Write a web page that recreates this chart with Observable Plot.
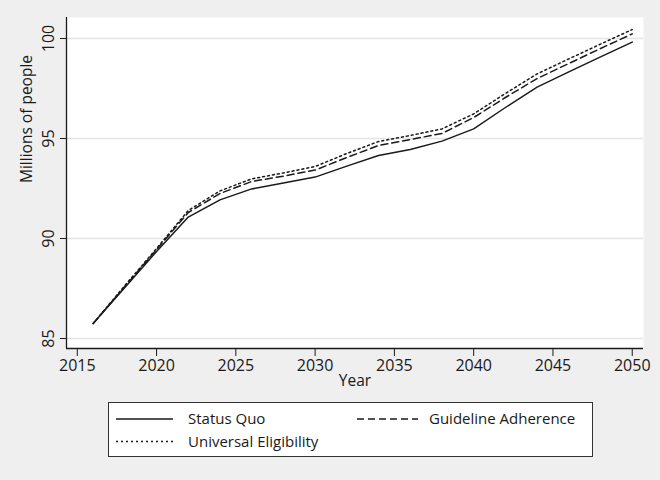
<!DOCTYPE html>
<html>
<head>
<meta charset="utf-8">
<script src="https://cdn.jsdelivr.net/npm/d3@7"></script>
<script src="https://cdn.jsdelivr.net/npm/@observablehq/plot@0.6"></script>
<style>
  html, body { margin: 0; padding: 0; background: #efefef; }
  #wrap { position: relative; width: 660px; height: 480px; background: #efefef; font-family: "Open Sans", sans-serif; }
  #legend { position: absolute; left: 108px; top: 402px; }
</style>
</head>
<body>
<div id="wrap">
  <div id="chart"></div>
  <svg id="legend" width="485" height="55"></svg>
</div>
<script>
const years = [2016, 2018, 2020, 2022, 2024, 2026, 2028, 2030, 2032, 2034, 2036, 2038, 2040, 2042, 2044, 2046, 2048, 2050];
const statusQuo = [85.75, 87.55, 89.35, 91.07, 91.93, 92.48, 92.77, 93.07, 93.62, 94.15, 94.45, 94.87, 95.48, 96.55, 97.57, 98.33, 99.08, 99.82];
const guidelineAdherence = [85.75, 87.6, 89.45, 91.3, 92.25, 92.85, 93.12, 93.42, 94.05, 94.65, 94.95, 95.25, 96.05, 97.05, 98.0, 98.75, 99.5, 100.23];
const universalEligibility = [85.75, 87.65, 89.5, 91.4, 92.38, 92.98, 93.28, 93.6, 94.25, 94.85, 95.15, 95.48, 96.23, 97.25, 98.23, 98.98, 99.72, 100.45];
const seriesNames = ["Status Quo", "Guideline Adherence", "Universal Eligibility"];
const xTicks = [2015, 2020, 2025, 2030, 2035, 2040, 2045, 2050];
const yTicks = [85, 90, 95, 100];
const xLabel = "Year";
const yLabel = "Millions of people";

const xDomain = [2014.32, 2050.71];
const yDomain = [84.5, 101.05];
const ink = "#1a1a1a";
const dashes = ["none", "7,4", "2,3"];

const rows = (vals) => years.map((year, i) => ({year, value: vals[i]}));
const seriesData = [statusQuo, guidelineAdherence, universalEligibility].map(rows);

const chart = Plot.plot({
  width: 660,
  height: 390,
  marginLeft: 66,
  marginRight: 17,
  marginTop: 17,
  marginBottom: 42,
  style: {background: "#efefef", fontFamily: "Open Sans", fontSize: "16px", color: ink},
  x: {domain: xDomain},
  y: {domain: yDomain},
  marks: [
    Plot.frame({fill: "white", stroke: null}),
    Plot.gridY(yTicks, {stroke: "#e4e4e4", strokeOpacity: 1, strokeWidth: 1.5}),
    ...seriesData.map((d, i) => Plot.line(d, {x: "year", y: "value", stroke: ink, strokeWidth: 1.5, strokeDasharray: dashes[i]})),
    Plot.ruleX([xDomain[0]], {stroke: ink, strokeWidth: 1.3}),
    Plot.ruleY([yDomain[0]], {stroke: ink, strokeWidth: 1.3}),
    Plot.axisX(xTicks, {tickSize: 8, tickPadding: 3, tickFormat: d => String(d), label: null, fontSize: 16, stroke: ink}),
    Plot.axisY(yTicks, {tickSize: 6, tickRotate: -90, tickPadding: 7, label: null, fontSize: 16, stroke: ink}),
    Plot.text([xLabel], {frameAnchor: "bottom", dy: 37, fontSize: 15.5, fill: ink}),
    Plot.text([yLabel], {frameAnchor: "left", dx: -39, rotate: -90, fontSize: 15.5, fill: ink})
  ]
});
document.getElementById("chart").appendChild(chart);

// Legend
const lg = d3.select("#legend");
lg.append("rect").attr("x", 0.5).attr("y", 0.5).attr("width", 484).attr("height", 54)
  .attr("fill", "white").attr("stroke", "#333").attr("stroke-width", 1);
const legendPos = [
  {sx: 8, ex: 65, tx: 80, y: 17},
  {sx: 249, ex: 310, tx: 321, y: 17},
  {sx: 8, ex: 67, tx: 80, y: 39.5}
];
seriesNames.forEach((name, i) => {
  const p = legendPos[i];
  lg.append("line").attr("x1", p.sx).attr("x2", p.ex).attr("y1", p.y).attr("y2", p.y)
    .attr("stroke", ink).attr("stroke-width", 1.4).attr("stroke-dasharray", dashes[i]);
  lg.append("text").attr("x", p.tx).attr("y", p.y).attr("dy", "0.35em")
    .attr("font-family", "Open Sans").attr("font-size", 15).attr("fill", ink).text(name);
});
</script>
</body>
</html>
